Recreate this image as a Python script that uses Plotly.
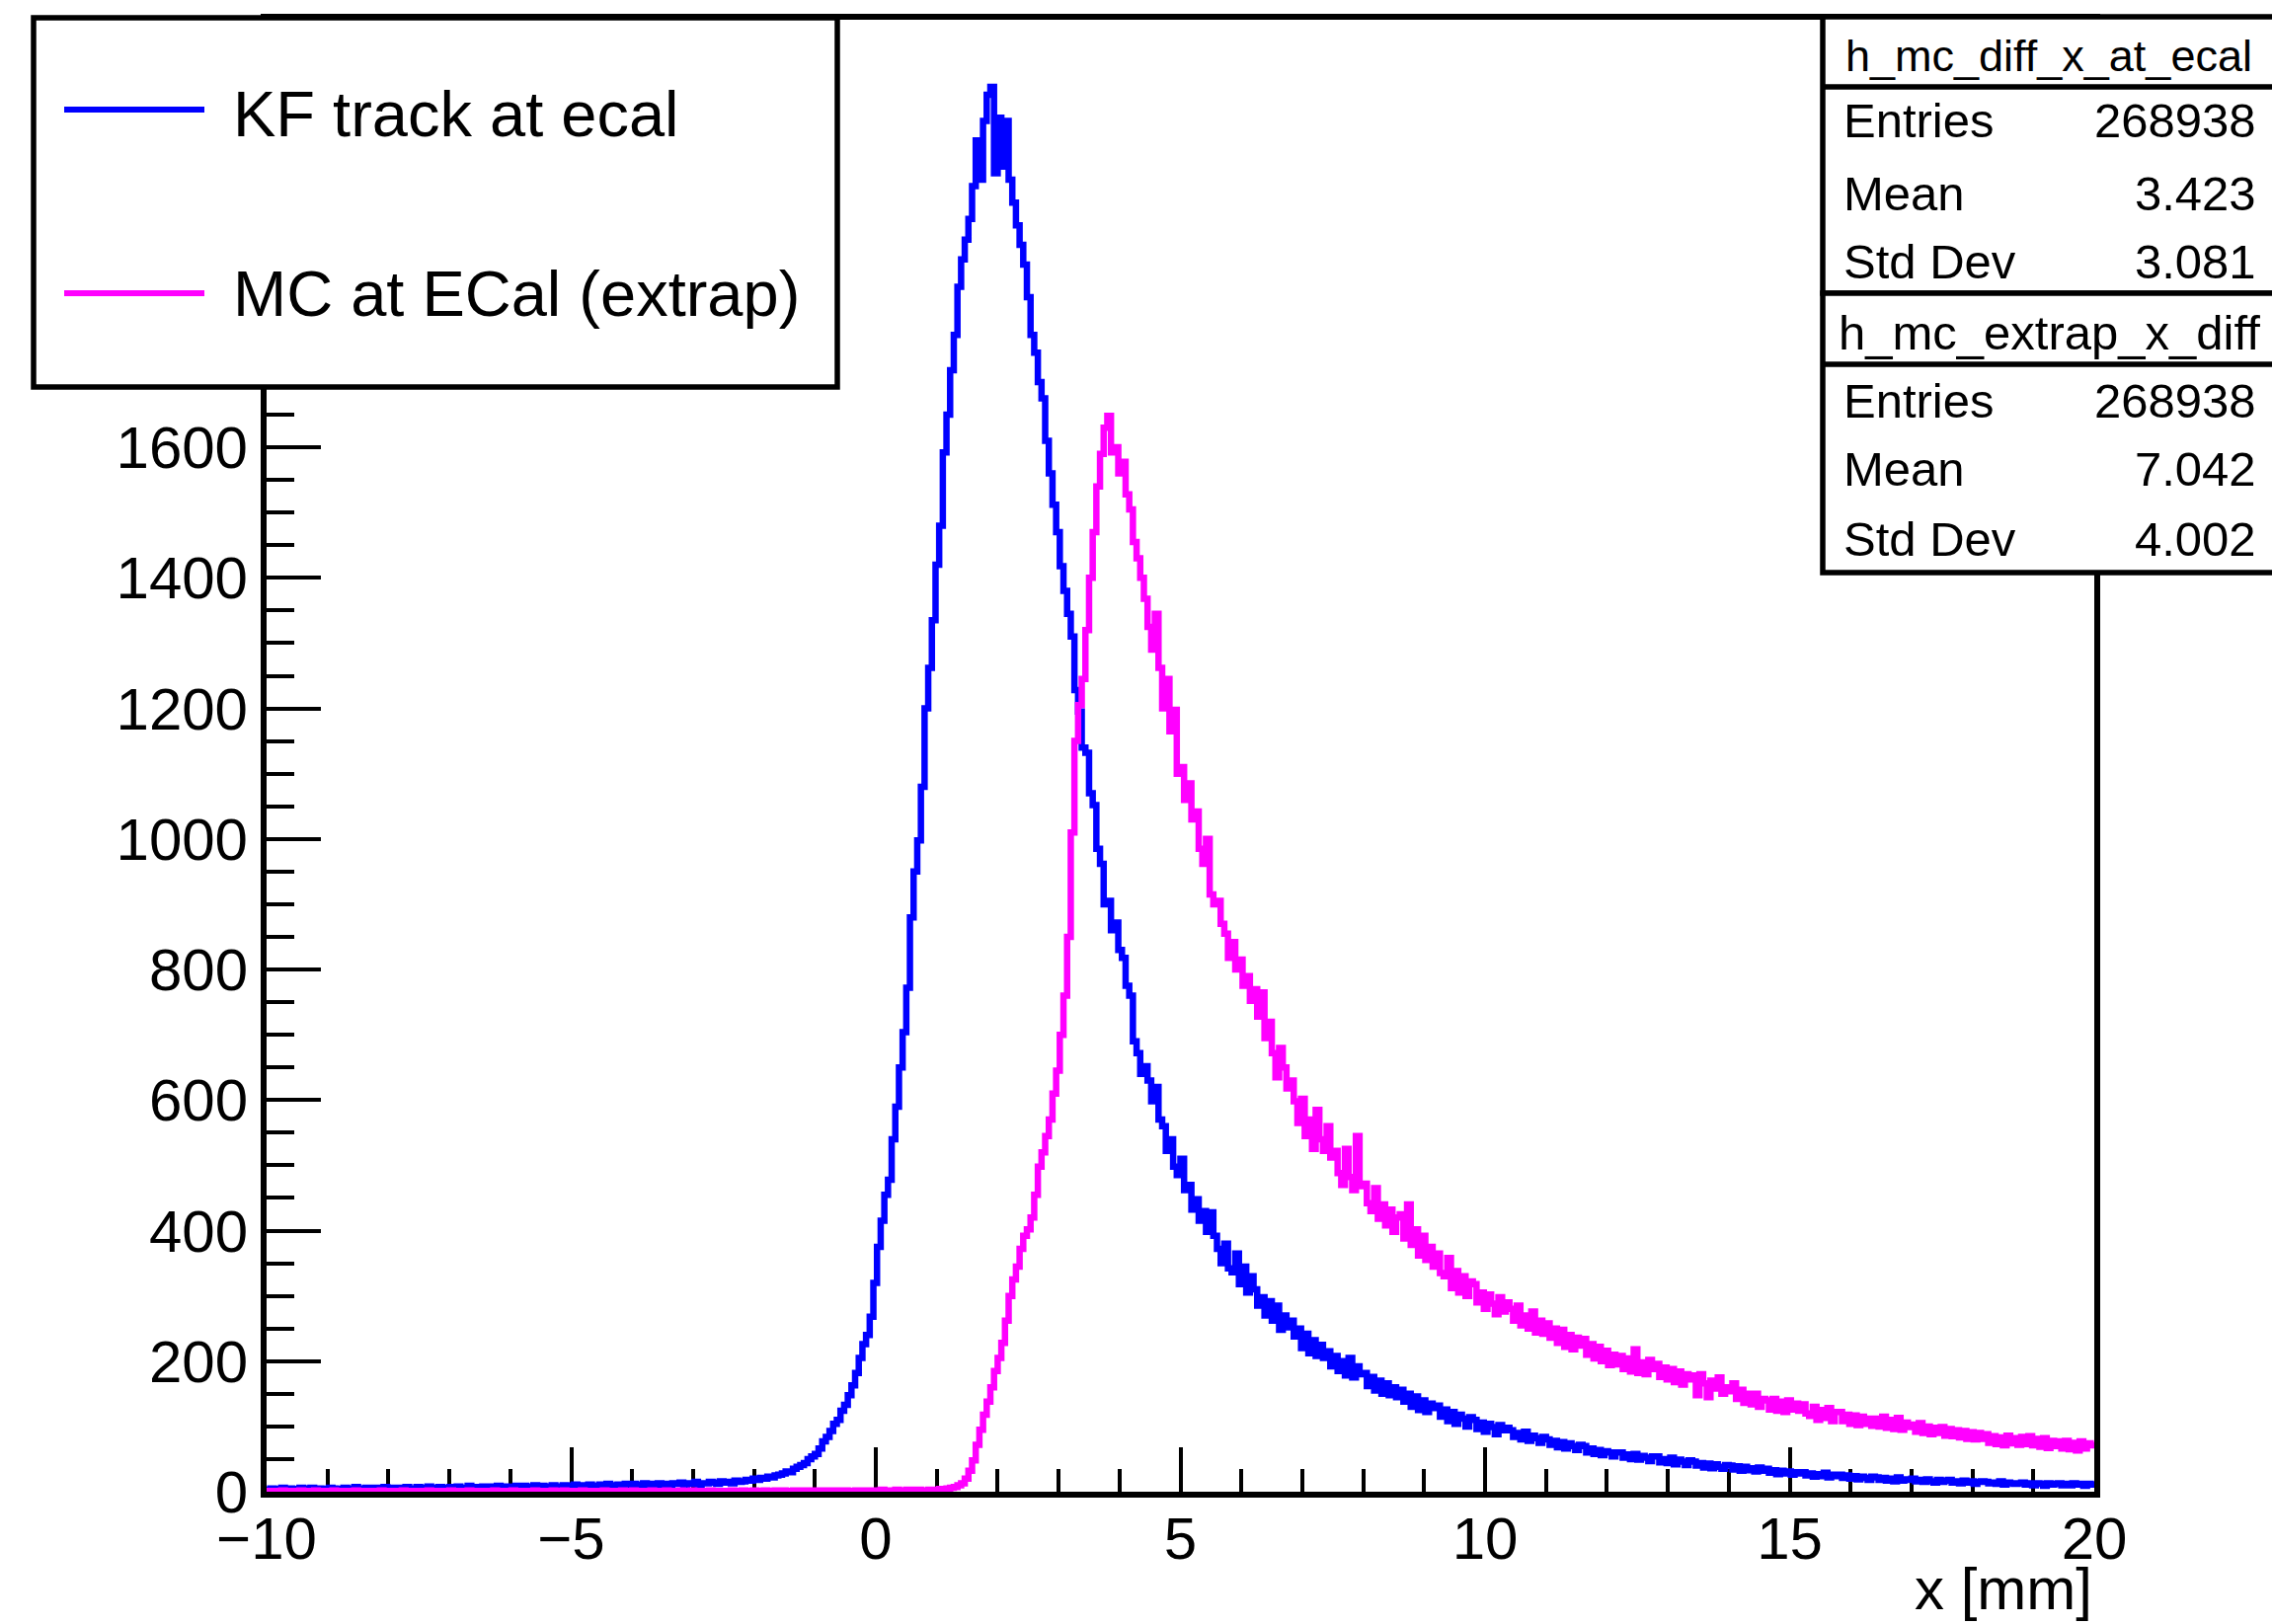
import numpy as np
import plotly.graph_objects as go

# Histogram binning: 500 uniform bins on [-10, 20] mm
x_min, x_max, n_bins = -10.0, 20.0, 500

# Bin contents of the KF track residual at the ECal face (10 bins per row)
kf_track_counts = [
    3, 5, 4, 2, 6, 4, 5, 3, 4, 6,
    5, 3, 6, 4, 5, 4, 3, 6, 5, 4,
    4, 6, 5, 3, 7, 5, 4, 6, 5, 6,
    6, 4, 7, 5, 6, 3, 6, 5, 7, 5,
    5, 7, 6, 4, 8, 6, 5, 7, 6, 5,
    7, 5, 8, 6, 6, 9, 5, 7, 6, 8,
    6, 8, 7, 9, 5, 8, 7, 6, 9, 7,
    9, 7, 8, 10, 6, 9, 8, 7, 10, 8,
    8, 10, 9, 7, 11, 9, 10, 8, 11, 9,
    9, 11, 10, 12, 8, 10, 11, 9, 12, 10,
    12, 10, 11, 13, 9, 12, 11, 13, 10, 12,
    11, 13, 12, 14, 10, 13, 12, 15, 11, 13,
    13, 15, 14, 12, 16, 14, 15, 13, 17, 15,
    16, 18, 17, 20, 18, 21, 20, 23, 22, 25,
    26, 28, 31, 30, 35, 38, 41, 44, 50, 54,
    58, 66, 77, 84, 93, 104, 110, 124, 133, 148,
    163, 182, 205, 226, 240, 268, 320, 375, 415, 455,
    478, 540, 590, 650, 704, 772, 880, 950, 998, 1080,
    1200, 1262, 1335, 1420, 1480, 1592, 1650, 1718, 1772, 1846,
    1888, 1918, 1950, 2000, 2070, 2010, 2100, 2140, 2152, 2020,
    2105, 2030, 2100, 2010, 1975, 1940, 1910, 1880, 1830, 1772,
    1745, 1700, 1675, 1610, 1560, 1512, 1470, 1418, 1380, 1345,
    1310, 1228, 1195, 1140, 1132, 1070, 1052, 985, 962, 900,
    905, 860, 872, 830, 818, 775, 760, 690, 672, 640,
    652, 630, 598, 620, 570, 560, 522, 540, 498, 485,
    510, 462, 470, 432, 448, 415, 430, 398, 428, 392,
    372, 350, 380, 342, 336, 365, 318, 345, 305, 330,
    310, 285, 298, 270, 292, 262, 285, 248, 270, 252,
    262, 238, 250, 220, 242, 212, 232, 208, 225, 205,
    215, 192, 208, 185, 200, 178, 205, 175, 192, 180,
    182, 162, 176, 155, 170, 150, 166, 148, 160, 145,
    156, 138, 150, 130, 146, 125, 140, 122, 135, 128,
    132, 115, 126, 108, 122, 104, 118, 112, 100, 114,
    110, 96, 106, 92, 104, 99, 88, 102, 94, 98,
    94, 84, 90, 80, 92, 78, 86, 82, 75, 84,
    80, 72, 78, 68, 76, 66, 74, 70, 64, 72,
    70, 60, 66, 58, 64, 56, 62, 60, 54, 60,
    60, 52, 57, 50, 58, 49, 55, 52, 47, 54,
    54, 45, 50, 44, 52, 42, 49, 46, 41, 48,
    46, 40, 44, 37, 43, 36, 42, 38, 35, 41,
    40, 34, 39, 32, 38, 33, 36, 31, 37, 32,
    35, 29, 33, 27, 32, 28, 31, 26, 30, 28,
    30, 25, 28, 23, 27, 24, 29, 22, 26, 24,
    26, 21, 25, 20, 24, 19, 23, 21, 18, 23,
    22, 18, 21, 17, 20, 16, 22, 17, 19, 18,
    20, 16, 18, 15, 19, 16, 14, 18, 15, 17,
    18, 14, 16, 13, 17, 14, 16, 12, 15, 16,
    15, 13, 14, 12, 16, 11, 14, 13, 12, 13,
    14, 11, 13, 10, 13, 12, 9, 13, 11, 12,
    13, 10, 12, 10, 13, 11, 12, 9, 12, 11,
]

# Bin contents of the MC truth extrapolated to the ECal (10 bins per row)
mc_extrap_counts = [
    1, 1, 0, 1, 2, 1, 0, 1, 1, 2,
    1, 0, 1, 2, 1, 1, 0, 1, 2, 1,
    0, 1, 1, 0, 2, 1, 1, 0, 1, 1,
    1, 2, 0, 1, 1, 0, 1, 2, 1, 0,
    1, 0, 1, 1, 2, 1, 0, 1, 1, 1,
    2, 1, 0, 1, 1, 2, 1, 1, 0, 1,
    1, 1, 2, 0, 1, 1, 0, 2, 1, 1,
    0, 1, 1, 2, 1, 0, 1, 1, 2, 1,
    1, 2, 1, 0, 1, 1, 2, 1, 0, 1,
    1, 0, 2, 1, 1, 0, 1, 2, 1, 1,
    2, 1, 1, 0, 1, 2, 1, 0, 1, 2,
    1, 1, 0, 2, 1, 1, 2, 1, 1, 0,
    1, 2, 1, 1, 0, 1, 1, 2, 1, 1,
    2, 1, 1, 2, 1, 0, 2, 1, 1, 2,
    1, 2, 1, 1, 2, 1, 2, 1, 2, 1,
    2, 1, 2, 2, 1, 2, 1, 2, 2, 1,
    1, 2, 2, 1, 2, 2, 1, 2, 3, 2,
    2, 2, 3, 2, 2, 3, 2, 3, 3, 2,
    2, 3, 3, 3, 4, 4, 5, 6, 7, 10,
    13, 20, 32, 48, 72, 95, 118, 138, 160, 185,
    205, 228, 262, 300, 325, 345, 372, 392, 402, 420,
    455, 498, 520, 545, 570, 610, 645, 700, 760, 850,
    1010, 1150, 1205, 1245, 1320, 1400, 1470, 1540, 1590, 1630,
    1648, 1592, 1600, 1560, 1578, 1528, 1505, 1455, 1430, 1400,
    1368, 1325, 1290, 1345, 1262, 1200, 1245, 1165, 1198, 1100,
    1110, 1060, 1085, 1030, 1042, 985, 962, 1000, 915, 900,
    905, 870, 855, 818, 842, 800, 815, 775, 790, 752,
    770, 728, 765, 695, 720, 672, 635, 680, 650, 618,
    630, 598, 565, 602, 545, 570, 525, 585, 540, 522,
    560, 512, 522, 488, 470, 525, 482, 462, 545, 468,
    472, 442, 430, 465, 418, 440, 408, 432, 398, 420,
    425, 388, 440, 378, 402, 362, 392, 355, 375, 345,
    365, 335, 330, 358, 312, 338, 305, 330, 300, 322,
    318, 290, 305, 280, 302, 288, 272, 298, 276, 290,
    280, 262, 285, 255, 270, 250, 276, 244, 262, 242,
    258, 236, 250, 228, 248, 222, 240, 218, 236, 224,
    234, 210, 226, 204, 222, 200, 216, 194, 210, 195,
    208, 188, 204, 184, 218, 182, 198, 180, 202, 188,
    196, 176, 190, 172, 188, 168, 184, 164, 180, 172,
    178, 148, 180, 166, 145, 170, 158, 175, 150, 160,
    154, 166, 142, 156, 136, 150, 134, 150, 130, 142,
    140, 126, 142, 124, 138, 122, 140, 126, 135, 124,
    134, 120, 116, 130, 110, 125, 113, 128, 108, 122,
    122, 108, 118, 104, 117, 102, 115, 104, 112, 101,
    112, 100, 115, 98, 110, 96, 113, 95, 106, 99,
    103, 92, 105, 90, 100, 88, 98, 90, 99, 86,
    96, 85, 94, 83, 93, 81, 91, 80, 90, 81,
    88, 75, 85, 73, 83, 71, 86, 74, 82, 72,
    84, 73, 85, 71, 81, 69, 82, 67, 78, 70,
    77, 66, 78, 65, 75, 63, 77, 66, 74, 71,
]

legend_labels = ["KF track at ecal", "MC at ECal (extrap)"]
line_colors = ["#0000ff", "#ff00ff"]

stat_titles = ["h_mc_diff_x_at_ecal", "h_mc_extrap_x_diff"]
stat_entries = ["268938", "268938"]
stat_means = ["3.423", "7.042"]
stat_stddevs = ["3.081", "4.002"]

x_title = "x [mm]"
y_max = 2255

assert len(kf_track_counts) == n_bins and len(mc_extrap_counts) == n_bins
edges = np.linspace(x_min, x_max, n_bins + 1)

# ---------------------------------------------------------------- canvas
W, H = 2301, 1645
FL, FR, FT, FB = 267, 2124, 17, 1514   # frame line centres (px)
inset = 3                               # plotly draws axis lines just outside the plot area
pl, pr, pt, pb = FL + inset, FR - inset, FT + inset, FB - inset
FONT = "Liberation Sans, Arial, Helvetica, sans-serif"


def px(X):
    return (X - pl) / (pr - pl)


def py(Y):
    return (pb - Y) / (pb - pt)


fig = go.Figure()
for counts, name, color in zip([kf_track_counts, mc_extrap_counts], legend_labels, line_colors):
    fig.add_trace(go.Scatter(
        x=edges,
        y=list(counts) + [counts[-1]],
        mode="lines",
        line=dict(color=color, width=6.5, shape="hv"),
        name=name,
        showlegend=False,
        hoverinfo="skip",
    ))

axis_common = dict(
    ticks="inside", tickwidth=4, tickcolor="black",
    showline=True, linewidth=6, linecolor="black", mirror=True,
    showgrid=False, zeroline=False, layer="below traces",
    tickfont=dict(family=FONT, size=60, color="black"),
    fixedrange=True,
)

fig.update_layout(
    width=W, height=H,
    margin=dict(l=pl, r=W - pr, t=pt, b=H - pb, pad=0),
    paper_bgcolor="white", plot_bgcolor="white",
    showlegend=False, hovermode=False,
    font=dict(family=FONT, color="black"),
    xaxis=dict(
        range=[x_min, x_max], tick0=0, dtick=5, ticklen=45,
        minor=dict(tick0=0, dtick=1, ticks="inside", ticklen=23, tickwidth=4,
                   tickcolor="black", showgrid=False),
        ticklabelstandoff=-10,
        **axis_common,
    ),
    yaxis=dict(
        range=[0, y_max], tick0=0, dtick=200, ticklen=55,
        minor=dict(tick0=0, dtick=50, ticks="inside", ticklen=28, tickwidth=4,
                   tickcolor="black", showgrid=False),
        ticklabelstandoff=1,
        **axis_common,
    ),
)

shapes = []
annotations = []


def rect(x0, y0, x1, y1, width=5.5):
    shapes.append(dict(type="rect", xref="paper", yref="paper",
                       x0=px(x0), x1=px(x1), y0=py(y1), y1=py(y0),
                       line=dict(color="black", width=width),
                       fillcolor="white", layer="above"))


def hline(x0, x1, y, color="black", width=5.5):
    shapes.append(dict(type="line", xref="paper", yref="paper",
                       x0=px(x0), x1=px(x1), y0=py(y), y1=py(y),
                       line=dict(color=color, width=width), layer="above"))


def text(s, x, y, size, xanchor="left"):
    annotations.append(dict(text=s, xref="paper", yref="paper",
                            x=px(x), y=py(y), xanchor=xanchor, yanchor="middle",
                            showarrow=False, font=dict(family=FONT, size=size, color="black")))


# legend box
rect(34, 18, 848, 392)
for label, color, ly, ty in zip(legend_labels, line_colors, [111, 297], [115, 297]):
    hline(65, 207, ly, color=color, width=6)
    text(label, 234, ty, 65)

# statistics boxes: frame, title divider, title and three rows each
box_tops = [17, 297]
box_bottoms = [297, 580]
dividers = [88, 369]
title_y = [57, 337]
title_sizes = [45, 49]
row_y = [[122, 196, 265], [406, 475, 546]]
for i in range(2):
    rect(1846, box_tops[i], 2330, box_bottoms[i])
    hline(1846, 2330, dividers[i])
    text(stat_titles[i], 2075, title_y[i], title_sizes[i], xanchor="center")
    rows = [("Entries", stat_entries[i]), ("Mean", stat_means[i]), ("Std Dev", stat_stddevs[i])]
    for (lab, val), ry in zip(rows, row_y[i]):
        text(lab, 1865, ry, 49)
        text(val, 2287, ry, 49, xanchor="right")

# x-axis title, right-aligned at the end of the axis
text(x_title, 2121, 1609, 60, xanchor="right")

fig.update_layout(shapes=shapes, annotations=annotations)
fig.write_html("out.html", config={"displayModeBar": False})
